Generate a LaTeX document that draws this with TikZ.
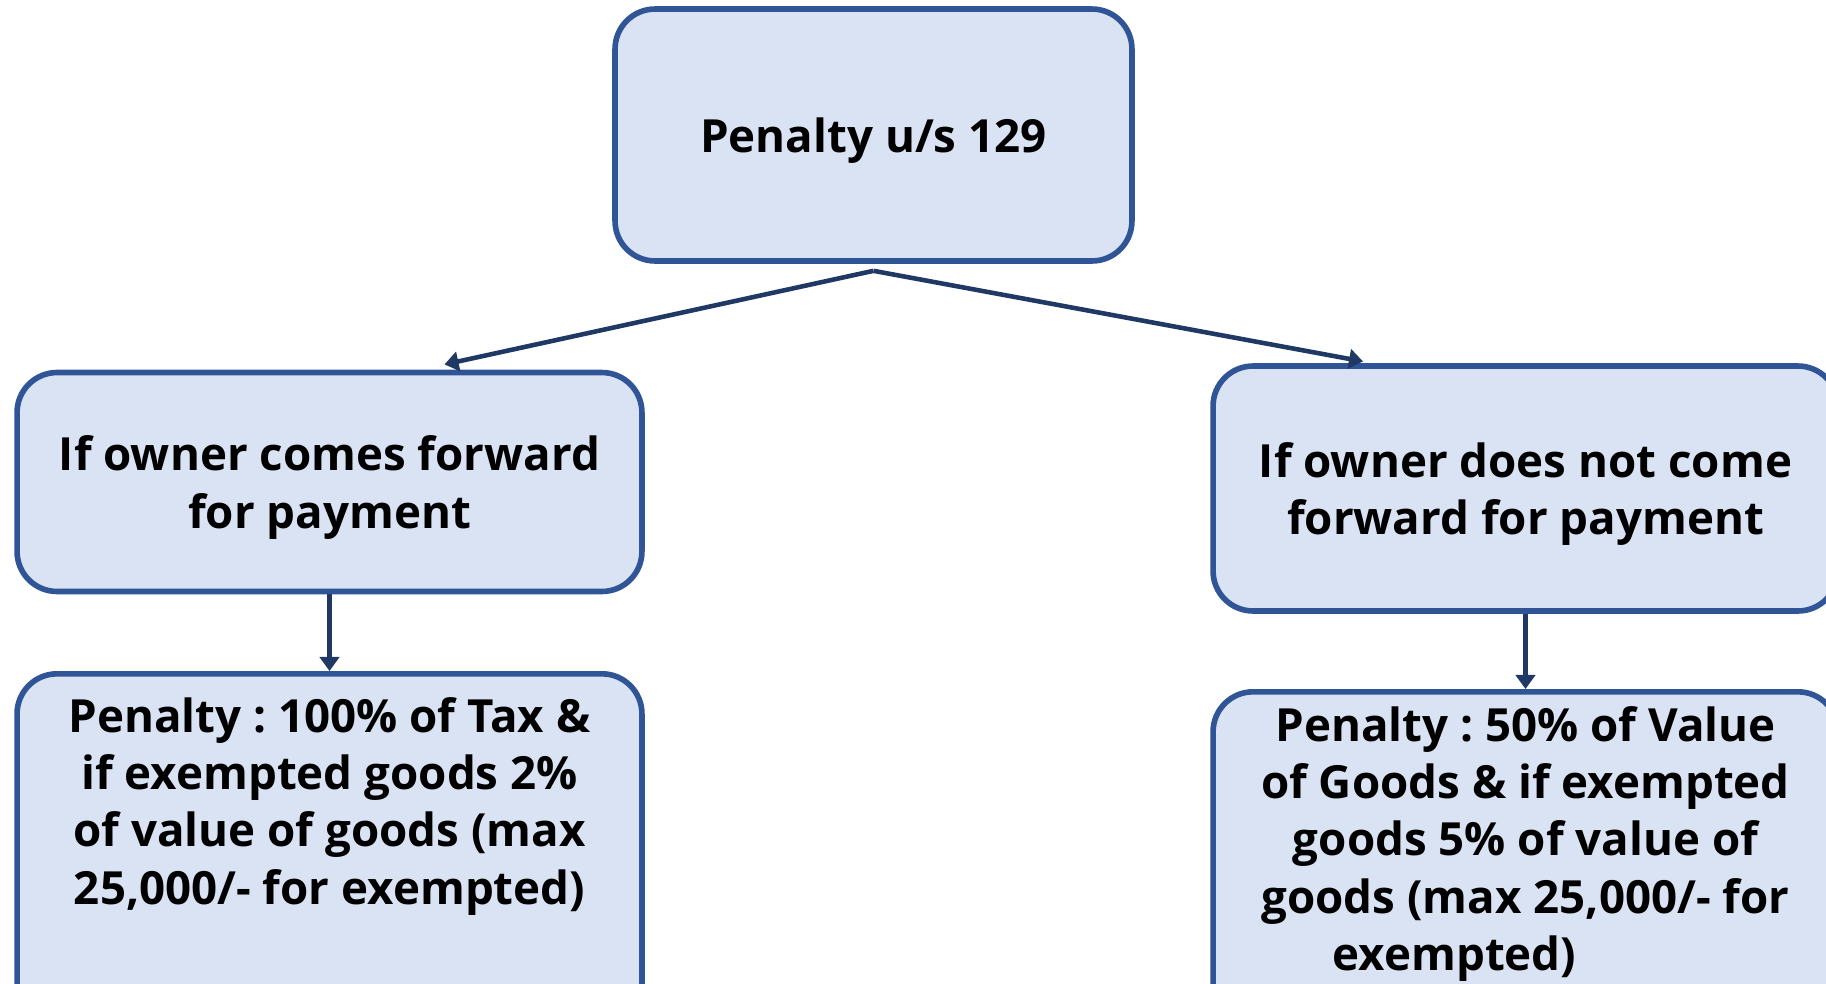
\documentclass[tikz,border=0pt]{standalone}
\usepackage{fontspec}
\setmainfont{Open Sans}
\frenchspacing
\usetikzlibrary{arrows.meta,positioning}
\definecolor{mfill}{RGB}{218,227,243}
\definecolor{mborder}{RGB}{47,85,151}
\definecolor{marrow}{RGB}{31,56,100}

\begin{document}
\begin{tikzpicture}[x=0.02cm,y=-0.02cm]
  \tikzset{penalty box/.style={draw=mborder,line width=3.2pt,fill=mfill,rounded corners=0.8cm,minimum width=12.5cm,align=center,text depth=0pt,font=\fontsize{26}{32.6}\selectfont\bfseries},
    box text/.style={align=center,inner sep=0pt,font=\fontsize{26}{32.6}\selectfont\bfseries},
    flow/.style={draw=marrow,line width=2.6pt,-{Triangle[width=11pt,length=8pt]}}}
  \useasboundingbox (0,0) rectangle (1826,984);
  \clip (0,0) rectangle (1826,984);

  \node [penalty box, minimum width=10.34cm, minimum height=5.04cm] (top) at (873.5,135) {Penalty u/s 129}; % root
  \node [penalty box, minimum height=4.38cm] (comes) at (329.5,482) {If owner comes forward\\for payment}; % left
  \node [penalty box, minimum height=4.9cm] (notcomes) at (1525.5,488.5) {If owner does not come\\forward for payment}; % right
  \node [penalty box, minimum height=7.2cm, anchor=north] (pen1) at (329.5,671) {}; % left result
  \node [penalty box, minimum height=7.2cm, anchor=north] (pen2) at (1525.5,689) {}; % right result
  \node [box text, below=0.52cm of pen1.north] (pen1 text) {Penalty : 100\% of Tax \&\\if exempted goods 2\%\\of value of goods (max\\25,000/- for exempted)};
  \node [box text, below=0.34cm of pen2.north] (pen2 text) {Penalty : 50\% of Value\\of Goods \& if exempted\\goods 5\% of value of\\goods (max 25,000/- for\\exempted)\hspace*{2.84cm}};

  \draw [flow] ([yshift=-4pt]top.south) -- ([xshift=2.3cm,yshift=3pt]comes.north);
  \draw [flow] ([yshift=-4pt]top.south) -- ([xshift=-3.25cm,yshift=1pt]notcomes.north);
  \draw [flow] (comes.south) -- (pen1.north);
  \draw [flow] (notcomes.south) -- (pen2.north);
\end{tikzpicture}
\end{document}
